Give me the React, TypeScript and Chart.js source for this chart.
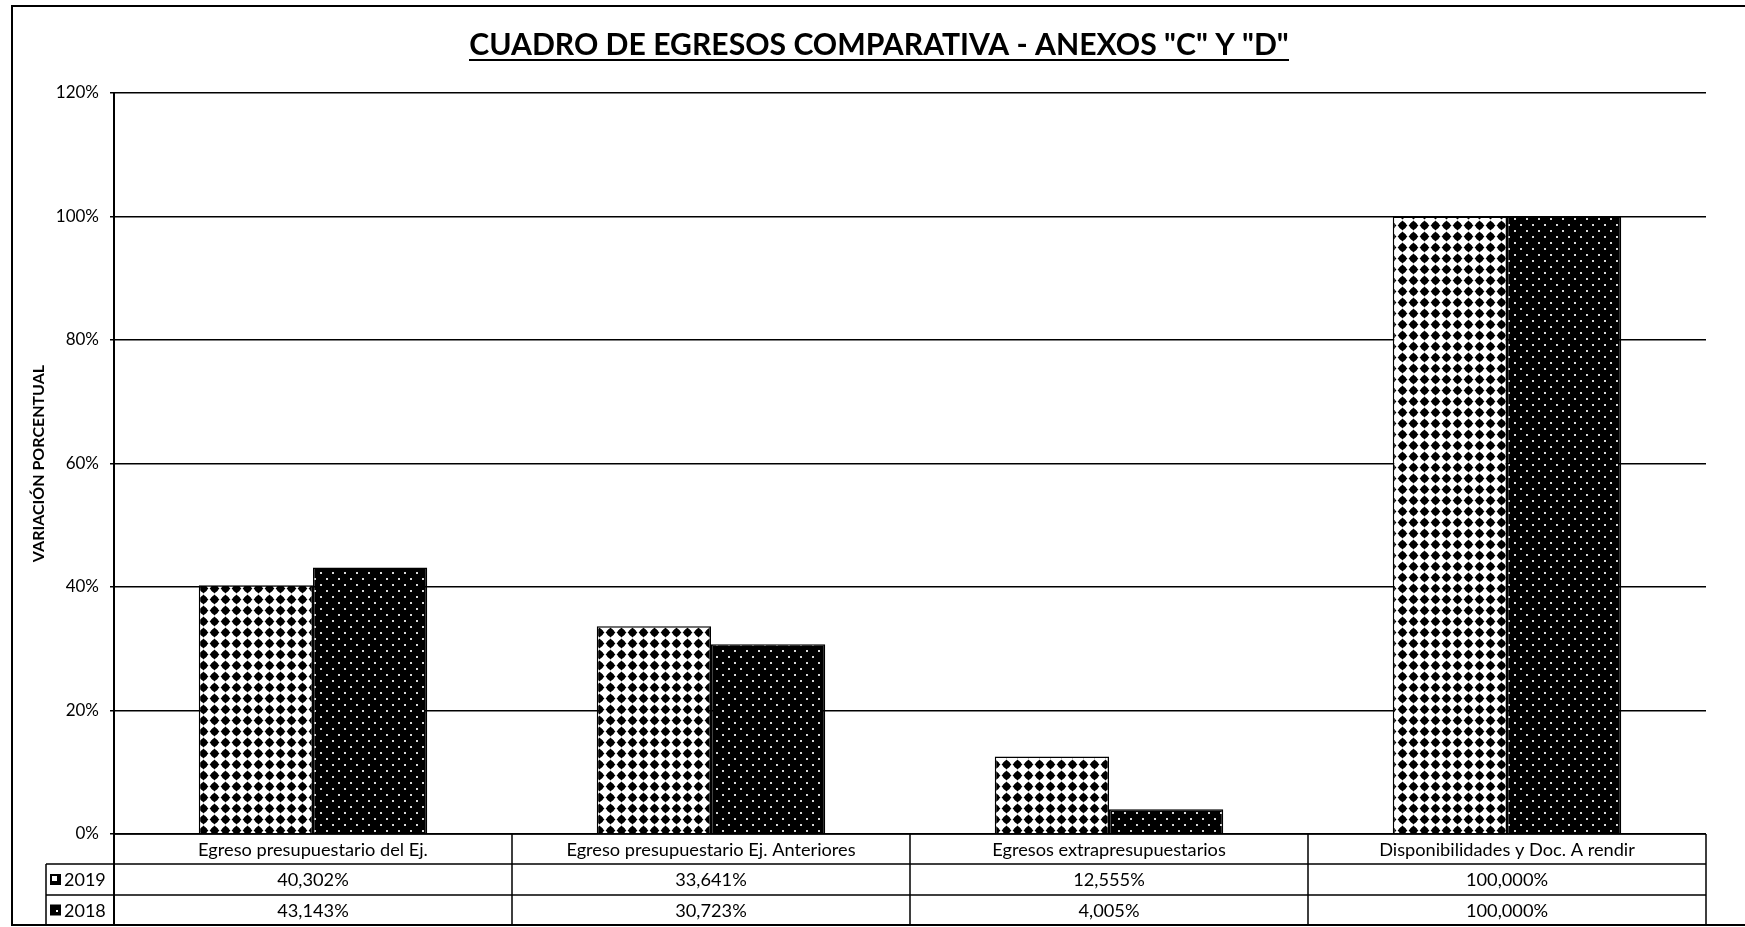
import { useEffect, useRef } from "react";
import { Chart, registerables } from "chart.js";

Chart.register(...registerables);

const categories = [
  "Egreso presupuestario del Ej.",
  "Egreso presupuestario Ej. Anteriores",
  "Egresos extrapresupuestarios",
  "Disponibilidades y Doc. A rendir",
];
const seriesNames = ["2019", "2018"];
const values2019 = [40.302, 33.641, 12.555, 100];
const values2018 = [43.143, 30.723, 4.005, 100];
const yTicks = [0, 20, 40, 60, 80, 100, 120];
const chartTitle = 'CUADRO DE EGRESOS COMPARATIVA - ANEXOS "C" Y "D"';
const yAxisTitle = "VARIACIÓN PORCENTUAL";

const FONT = "Lato, 'Noto Sans', sans-serif";

function makeDiamondPattern(ctx: CanvasRenderingContext2D) {
  const c = document.createElement("canvas");
  c.width = 11;
  c.height = 11;
  const g = c.getContext("2d")!;
  g.fillStyle = "#fff";
  g.fillRect(0, 0, 11, 11);
  g.fillStyle = "#000";
  g.beginPath();
  g.arc(5.5, 5.5, 3.6, 0, Math.PI * 2);
  g.fill();
  g.beginPath();
  g.moveTo(5.5, 0.6);
  g.lineTo(10.4, 5.5);
  g.lineTo(5.5, 10.4);
  g.lineTo(0.6, 5.5);
  g.closePath();
  g.fill();
  return ctx.createPattern(c, "repeat")!;
}

function makeDotPattern(ctx: CanvasRenderingContext2D) {
  const c = document.createElement("canvas");
  c.width = 12;
  c.height = 12;
  const g = c.getContext("2d")!;
  g.fillStyle = "#000";
  g.fillRect(0, 0, 12, 12);
  g.fillStyle = "#d8d8d8";
  g.fillRect(2, 2, 2, 2);
  g.fillRect(8, 8, 2, 2);
  return ctx.createPattern(c, "repeat")!;
}

const fmt = (v: number) => v.toFixed(3).replace(".", ",") + "%";

export default function App() {
  const ref = useRef<HTMLCanvasElement | null>(null);

  useEffect(() => {
    const canvas = ref.current!;
    const ctx0 = canvas.getContext("2d")!;
    const patA = makeDiamondPattern(ctx0);
    const patB = makeDotPattern(ctx0);

    const tablePlugin = {
      id: "tablePlugin",
      afterDraw(chart: any) {
        const { ctx, chartArea } = chart;
        const L = chartArea.left;
        const R = chartArea.right;
        const B = chartArea.bottom;
        const n = categories.length;
        const w = (R - L) / n;
        const rowY = [B, B + 30, B + 61, B + 91];
        const legendLeft = 46;
        ctx.save();
        ctx.strokeStyle = "#000";
        ctx.lineWidth = 1.5;
        ctx.beginPath();
        ctx.moveTo(L, rowY[0]);
        ctx.lineTo(R, rowY[0]);
        ctx.moveTo(legendLeft, rowY[1]);
        ctx.lineTo(R, rowY[1]);
        ctx.moveTo(legendLeft, rowY[2]);
        ctx.lineTo(R, rowY[2]);
        ctx.stroke();
        ctx.beginPath();
        ctx.moveTo(legendLeft, rowY[1]);
        ctx.lineTo(legendLeft, rowY[3]);
        for (let i = 1; i <= n; i++) {
          const xx = L + i * w;
          ctx.moveTo(xx, rowY[0]);
          ctx.lineTo(xx, rowY[3]);
        }
        ctx.stroke();
        ctx.lineWidth = 2;
        ctx.beginPath();
        ctx.moveTo(L, rowY[0]);
        ctx.lineTo(L, rowY[3]);
        ctx.stroke();

        // outer border
        ctx.lineWidth = 2;
        ctx.beginPath();
        ctx.moveTo(chart.width + 5, 6);
        ctx.lineTo(12, 6);
        ctx.lineTo(12, 925);
        ctx.lineTo(chart.width + 5, 925);
        ctx.stroke();

        // table text, sized to match reference label width
        ctx.fillStyle = "#000";
        ctx.textAlign = "center";
        ctx.textBaseline = "middle";
        ctx.font = `20px ${FONT}`;
        const cw = ctx.measureText(categories[0]).width;
        const tsize = (20 * 230) / cw;
        ctx.font = `${tsize}px ${FONT}`;
        for (let i = 0; i < n; i++) {
          const cx = L + (i + 0.5) * w;
          ctx.fillText(categories[i], cx, (rowY[0] + rowY[1]) / 2 + 1);
          ctx.fillText(fmt(values2019[i]), cx, (rowY[1] + rowY[2]) / 2 + 1);
          ctx.fillText(fmt(values2018[i]), cx, (rowY[2] + rowY[3]) / 2 + 1);
        }
        // legend keys
        ctx.font = `18px ${FONT}`;
        ctx.textAlign = "left";
        for (let r = 0; r < 2; r++) {
          const cy = (rowY[r + 1] + rowY[r + 2]) / 2;
          ctx.fillStyle = "#000";
          ctx.fillRect(50, cy - 5.5, 11, 11);
          ctx.fillStyle = "#fff";
          if (r === 0) {
            ctx.fillRect(52, cy - 3.5, 5, 5);
          } else {
            ctx.fillRect(56, cy, 2, 2);
          }
          ctx.fillStyle = "#000";
          ctx.fillText(seriesNames[r], 64, cy + 1);
        }

        // title
        const cxT = 879;
        let size = 26;
        ctx.font = `bold ${size}px ${FONT}`;
        const mw = ctx.measureText(chartTitle).width;
        size = (size * 820) / mw;
        ctx.font = `bold ${size}px ${FONT}`;
        ctx.textAlign = "center";
        ctx.textBaseline = "alphabetic";
        ctx.fillText(chartTitle, cxT, 55);
        ctx.lineWidth = 2;
        ctx.beginPath();
        ctx.moveTo(cxT - 410, 60);
        ctx.lineTo(cxT + 410, 60);
        ctx.stroke();
        ctx.restore();
      },
    };

    const chart = new Chart(canvas, {
      type: "bar",
      data: {
        labels: categories,
        datasets: [
          {
            label: seriesNames[0],
            data: values2019,
            backgroundColor: patA,
            borderColor: "#000",
            borderWidth: 1.5,
            categoryPercentage: 0.574,
            barPercentage: 1,
          },
          {
            label: seriesNames[1],
            data: values2018,
            backgroundColor: patB,
            borderColor: "#000",
            borderWidth: 1.5,
            categoryPercentage: 0.574,
            barPercentage: 1,
          },
        ],
      },
      options: {
        responsive: false,
        animation: false,
        layout: { padding: { left: 12, top: 93, right: 39, bottom: 93 } },
        plugins: {
          legend: { display: false },
          tooltip: { enabled: false },
          title: { display: false },
        },
        scales: {
          x: { display: false },
          y: {
            min: 0,
            max: 120,
            afterFit: (s: any) => {
              s.width = 102;
            },
            afterBuildTicks: (s: any) => {
              s.ticks = yTicks.map((v) => ({ value: v }));
            },
            ticks: {
              callback: (v: any) => v + "%",
              color: "#000",
              font: { family: FONT, size: 17 },
              padding: 11,
            },
            grid: { color: "#000", lineWidth: 1.5, tickLength: 4, drawTicks: true },
            border: { display: true, color: "#000", width: 2 },
            title: {
              display: true,
              text: yAxisTitle,
              color: "#000",
              font: { family: FONT, size: 16, weight: "bold" },
              padding: { top: 17, bottom: 0 },
            },
          },
        },
      },
      plugins: [tablePlugin],
    } as any);

    return () => chart.destroy();
  }, []);

  return (
    <div style={{ position: "fixed", left: 0, top: 0, width: 1745, height: 927, background: "#fff" }}>
      <canvas ref={ref} width={1745} height={927} style={{ display: "block" }} />
    </div>
  );
}
